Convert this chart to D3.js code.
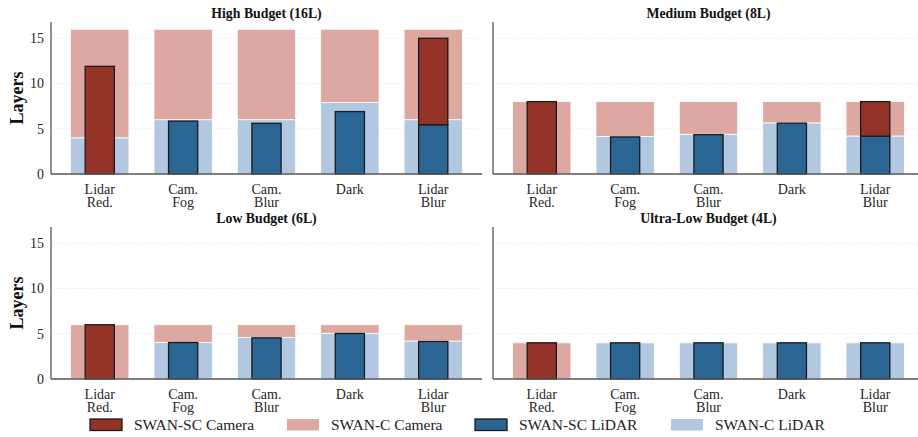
<!DOCTYPE html>
<html><head><meta charset="utf-8">
<script src="https://cdn.jsdelivr.net/npm/d3@7"></script>
<style>body{margin:0;background:#fff} svg{display:block;font-family:"Liberation Serif","Times New Roman",serif}</style>
</head><body>
<svg id="c" width="918" height="437"></svg>
<script>
// ---- data ----
const categories = ["Lidar\nRed.", "Cam.\nFog", "Cam.\nBlur", "Dark", "Lidar\nBlur"];
const budgets = ["High Budget (16L)", "Medium Budget (8L)", "Low Budget (6L)", "Ultra-Low Budget (4L)"];
// SWAN-C (wide, light) stacked: LiDAR bottom, Camera top
const swanCLidar = [
  [4, 6, 6, 7.9, 6],
  [0, 4.15, 4.4, 5.65, 4.2],
  [0, 4.05, 4.6, 5.05, 4.2],
  [0, 4, 4, 4, 4]
];
const swanCCamera = [
  [12, 10, 10, 8.1, 10],
  [8, 3.85, 3.6, 2.35, 3.8],
  [6, 1.95, 1.4, 0.95, 1.8],
  [4, 0, 0, 0, 0]
];
// SWAN-SC (narrow, dark) stacked: LiDAR bottom, Camera top
const swanSCLidar = [
  [0, 5.85, 5.6, 6.9, 5.45],
  [0, 4.1, 4.35, 5.62, 4.18],
  [0, 4.03, 4.55, 5.03, 4.15],
  [0, 4, 4, 4, 4]
];
const swanSCCamera = [
  [11.9, 0, 0, 0, 9.55],
  [8, 0, 0, 0, 3.82],
  [6, 0, 0, 0, 0],
  [4, 0, 0, 0, 0]
];
const yTicks = [0, 5, 10, 15];
const legendLabels = ["SWAN-SC Camera", "SWAN-C Camera", "SWAN-SC LiDAR", "SWAN-C LiDAR"];

// ---- style ----
const col = {scCam: "#943327", cCam: "#dea8a2", scLid: "#2b6594", cLid: "#b2c8e0"};
const svg = d3.select("#c");
const panelW = 431, panelH = 152;
const lefts = [51, 493], tops = [22, 227];
const x = d3.scaleLinear().domain([-0.585, 4.585]).range([0, panelW]);
const y = d3.scaleLinear().domain([0, 16.8]).range([panelH, 0]);
const wideW = x(0.7) - x(0), narrowW = x(0.35) - x(0);

budgets.forEach((title, b) => {
  const r = Math.floor(b / 2), c = b % 2;
  const g = svg.append("g").attr("transform", `translate(${lefts[c]},${tops[r]})`);

  // grid
  g.append("g").selectAll("line").data(yTicks.filter(t => t > 0)).join("line")
    .attr("x1", 0).attr("x2", panelW)
    .attr("y1", d => y(d)).attr("y2", d => y(d))
    .attr("stroke", "#dcdcdc").attr("stroke-width", 0.8).attr("stroke-dasharray", "1,2");

  categories.forEach((cat, i) => {
    const cx = x(i);
    const cl = swanCLidar[b][i], cc = swanCCamera[b][i];
    const sl = swanSCLidar[b][i], sc = swanSCCamera[b][i];
    // wide light bars
    if (cl > 0) g.append("rect").attr("x", cx - wideW / 2).attr("width", wideW)
      .attr("y", y(cl)).attr("height", y(0) - y(cl))
      .attr("fill", col.cLid).attr("stroke", "#fff").attr("stroke-width", 0.8);
    if (cc > 0) g.append("rect").attr("x", cx - wideW / 2).attr("width", wideW)
      .attr("y", y(cl + cc)).attr("height", y(cl) - y(cl + cc))
      .attr("fill", col.cCam).attr("stroke", "#fff").attr("stroke-width", 0.8);
    // narrow dark bars
    if (sl > 0) g.append("rect").attr("x", cx - narrowW / 2).attr("width", narrowW)
      .attr("y", y(sl)).attr("height", y(0) - y(sl))
      .attr("fill", col.scLid).attr("stroke", "#1a1a1a").attr("stroke-width", 1.3);
    if (sc > 0) g.append("rect").attr("x", cx - narrowW / 2).attr("width", narrowW)
      .attr("y", y(sl + sc)).attr("height", y(sl) - y(sl + sc))
      .attr("fill", col.scCam).attr("stroke", "#1a1a1a").attr("stroke-width", 1.3);
    // x tick labels
    const t = g.append("text").attr("x", cx).attr("y", panelH + 19.5)
      .attr("text-anchor", "middle").attr("font-size", 14).attr("fill", "#262626");
    cat.split("\n").forEach((ln, k) => t.append("tspan").attr("x", cx).attr("dy", k === 0 ? 0 : 13.5).text(ln));
  });

  // spines
  g.append("line").attr("x1", 0).attr("x2", 0).attr("y1", 0).attr("y2", panelH)
    .attr("stroke", "#555").attr("stroke-width", 1.3);
  g.append("line").attr("x1", 0).attr("x2", panelW).attr("y1", panelH).attr("y2", panelH)
    .attr("stroke", "#555").attr("stroke-width", 1.3);

  // y ticks labels on left column
  if (c === 0) {
    g.append("g").selectAll("text").data(yTicks).join("text")
      .attr("x", -7).attr("y", d => y(d)).attr("dy", "0.35em")
      .attr("text-anchor", "end").attr("font-size", 14).attr("fill", "#262626").text(d => d);
    g.append("text").attr("transform", `translate(${23 - lefts[c]},${panelH / 2}) rotate(-90)`)
      .attr("text-anchor", "middle").attr("font-size", 18).attr("font-weight", "bold")
      .attr("fill", "#111").text("Layers");
  }
  // title
  g.append("text").attr("x", panelW / 2).attr("y", -4.5).attr("text-anchor", "middle")
    .attr("font-size", 13.8).attr("font-weight", "bold").attr("fill", "#111").text(title);
});

// legend
const legX = [90, 287, 475, 671];
const legCols = [col.scCam, col.cCam, col.scLid, col.cLid];
const legEdge = [true, false, true, false];
legendLabels.forEach((lab, i) => {
  svg.append("rect").attr("x", legX[i]).attr("y", 419).attr("width", 32).attr("height", 11.5)
    .attr("fill", legCols[i]).attr("stroke", legEdge[i] ? "#1a1a1a" : "none").attr("stroke-width", 1.3);
  svg.append("text").attr("x", legX[i] + 44).attr("y", 429.5).attr("font-size", 15.5)
    .attr("fill", "#222").text(lab);
});
</script>
</body></html>
